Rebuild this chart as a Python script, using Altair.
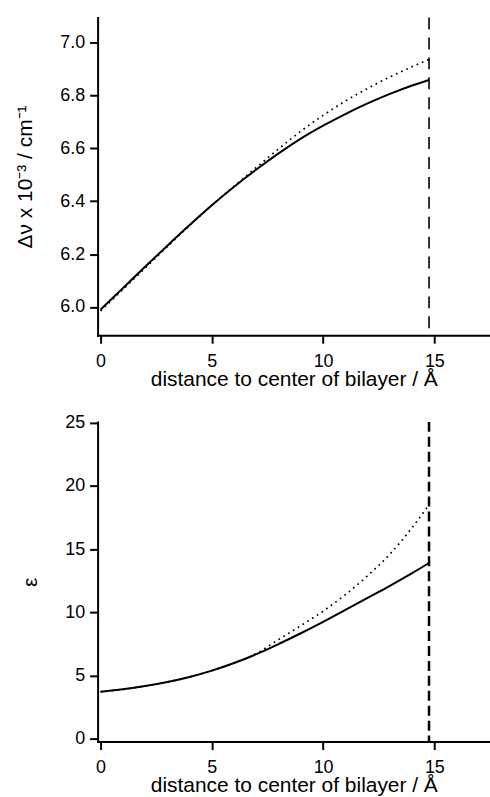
import altair as alt
import pandas as pd

FONT = "Liberation Sans"

# ---- data ----
x_vals = [0, 1, 2, 3, 4, 5, 6, 7, 8, 9, 10, 11, 12, 13, 14, 14.76]
dnu_solid = [5.99, 6.071, 6.152, 6.232, 6.31, 6.385, 6.455, 6.52, 6.581, 6.637, 6.686,
             6.73, 6.77, 6.806, 6.838, 6.859]
dnu_dotted = [5.985, 6.066, 6.147, 6.228, 6.308, 6.385, 6.457, 6.528, 6.598, 6.665, 6.725,
              6.779, 6.827, 6.87, 6.909, 6.937]
eps_solid = [3.72, 3.92, 4.18, 4.5, 4.9, 5.4, 6.0, 6.7, 7.5, 8.35, 9.25, 10.2, 11.15,
             12.1, 13.1, 13.9]
eps_dotted = [3.72, 3.92, 4.18, 4.5, 4.9, 5.4, 6.0, 6.75, 7.85, 8.95, 10.1, 11.4, 12.9,
              14.6, 16.7, 18.5]
boundary = [14.76]

x_ticks = [0, 5, 10, 15]
dnu_ticks = [6.0, 6.2, 6.4, 6.6, 6.8, 7.0]
eps_ticks = [0, 5, 10, 15, 20, 25]

x_title = "distance to center of bilayer / Å"
dnu_title = "Δν x 10⁻³ / cm⁻¹"
eps_title = "ε"

df = pd.DataFrame({"x": x_vals, "dnu_s": dnu_solid, "dnu_d": dnu_dotted,
                   "eps_s": eps_solid, "eps_d": eps_dotted})
bdf = pd.DataFrame({"x": boundary})

x_scale = alt.Scale(domain=[-0.134, 17.5], nice=False, zero=False)
x_axis = alt.Axis(values=x_ticks, title=x_title, labelPadding=9, titlePadding=-2)


def panel(ycol_s, ycol_d, ydomain, yticks, ytitle, yfmt, height, dash, dash_w):
    y_axis = alt.Axis(values=yticks, title=ytitle, format=yfmt, titlePadding=24,
                      labelPadding=5)
    base = alt.Chart(df)
    solid = base.mark_line(color="black", strokeWidth=2, interpolate="monotone",
                           clip=True).encode(
        x=alt.X("x:Q", scale=x_scale, axis=x_axis),
        y=alt.Y(f"{ycol_s}:Q", scale=alt.Scale(domain=ydomain, nice=False, zero=False),
                axis=y_axis),
    )
    dotted = base.mark_line(color="black", strokeWidth=1.7, strokeDash=[1.7, 4],
                            interpolate="monotone", clip=True).encode(
        x=alt.X("x:Q"),
        y=alt.Y(f"{ycol_d}:Q"),
    )
    rule = alt.Chart(bdf).mark_rule(color="black", strokeWidth=dash_w,
                                    strokeDash=dash).encode(x=alt.X("x:Q"))
    return alt.layer(rule, dotted, solid).properties(width=394, height=height)


top = panel("dnu_s", "dnu_d", [5.893, 7.095], dnu_ticks, dnu_title, ".1f", 319, [12, 8], 1.6)
bottom = panel("eps_s", "eps_d", [-0.21, 25.05], eps_ticks, eps_title, "d", 321, [10, 5], 2.5)

chart = alt.vconcat(top, bottom, spacing=24).properties(
    padding={"left": 14, "top": 15, "right": 0, "bottom": 0}
).configure_view(stroke=None).configure_axis(
    domainColor="black", domainWidth=2, domainCap="square",
    tickColor="black", tickWidth=2, tickSize=8,
    labelFont=FONT, labelFontSize=18, labelColor="black",
    titleFont=FONT, titleFontSize=21, titleFontWeight="normal", titleColor="black",
    grid=False,
)

chart.save("out.html", embed_options={"renderer": "svg", "actions": False})
